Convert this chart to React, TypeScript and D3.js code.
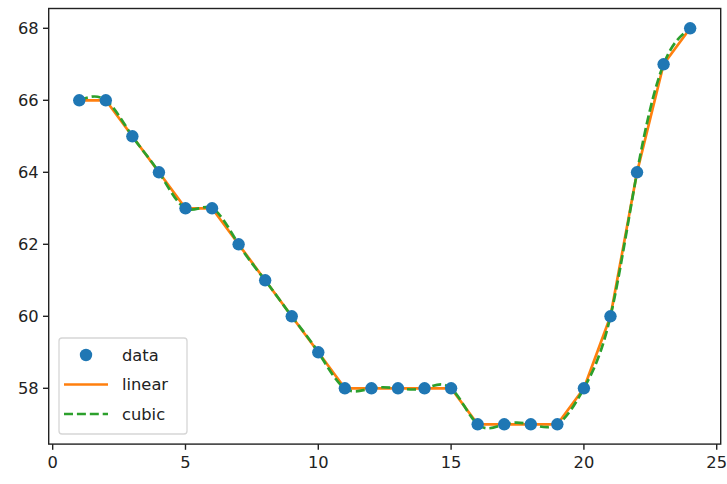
import React from 'react'
import * as d3 from 'd3'

// observations
const xValues = [1, 2, 3, 4, 5, 6, 7, 8, 9, 10, 11, 12, 13, 14, 15, 16, 17, 18, 19, 20, 21, 22, 23, 24]
const yValues = [66, 66, 65, 64, 63, 63, 62, 61, 60, 59, 58, 58, 58, 58, 58, 57, 57, 57, 57, 58, 60, 64, 67, 68]

const xTicks = [0, 5, 10, 15, 20, 25]
const yTicks = [58, 60, 62, 64, 66, 68]

const legendItems = ['data', 'linear', 'cubic']

const W = 727
const H = 484
const FONT = 'DejaVu Sans, sans-serif'
const FS = 16.3
const TEXT = '#222'
const LW = 2.7
const R = 6.2

export default function App() {
  const xScale = d3.scaleLinear().domain([-0.15, 25.15]).range([48.7, 720.7])
  const yScale = d3.scaleLinear().domain([56.45, 68.55]).range([444.1, 8.5])

  const pts: [number, number][] = xValues.map((v, i) => [v, yValues[i]])

  const line = d3
    .line<[number, number]>()
    .x((d) => xScale(d[0]))
    .y((d) => yScale(d[1]))

  const linearPath = line.curve(d3.curveLinear)(pts)
  const cubicPath = line.curve(d3.curveNatural)(pts)

  const [x0, x1] = xScale.range()
  const [y0, y1] = yScale.range()

  // legend layout
  const lgX = 59
  const lgY = 338
  const lgW = 128
  const lgH = 96
  const rowY = (i: number) => lgY + 17 + i * 29.5

  return (
    <div style={{ position: 'absolute', left: 0, top: 0 }}>
      <svg width={W} height={H} style={{ display: 'block', background: '#fff' }}>
        <rect x={0} y={0} width={W} height={H} fill="#fff" />

        {/* lines */}
        <path d={linearPath || ''} fill="none" stroke="#ff7f0e" strokeWidth={LW} strokeLinejoin="round" />
        <path d={cubicPath || ''} fill="none" stroke="#2ca02c" strokeWidth={LW} strokeDasharray="9,3.9" />

        {/* data points */}
        {pts.map((d, i) => (
          <circle key={i} cx={xScale(d[0])} cy={yScale(d[1])} r={R} fill="#1f77b4" />
        ))}

        {/* spines */}
        <rect x={x0} y={y1} width={x1 - x0} height={y0 - y1} fill="none" stroke="#222" strokeWidth={1.4} />

        {/* x ticks */}
        {xTicks.map((t) => (
          <g key={'x' + t}>
            <line x1={xScale(t)} x2={xScale(t)} y1={y0} y2={y0 + 5.7} stroke="#222" strokeWidth={1.4} />
            <text
              x={xScale(t)}
              y={y0 + 8 + FS * 0.95}
              textAnchor="middle"
              fontFamily={FONT}
              fontSize={FS}
              fill={TEXT}
            >
              {t}
            </text>
          </g>
        ))}

        {/* y ticks */}
        {yTicks.map((t) => (
          <g key={'y' + t}>
            <line x1={x0 - 5.7} x2={x0} y1={yScale(t)} y2={yScale(t)} stroke="#222" strokeWidth={1.4} />
            <text
              x={x0 - 10}
              y={yScale(t)}
              dy="0.36em"
              textAnchor="end"
              fontFamily={FONT}
              fontSize={FS}
              fill={TEXT}
            >
              {t}
            </text>
          </g>
        ))}

        {/* legend */}
        <rect
          x={lgX}
          y={lgY}
          width={lgW}
          height={lgH}
          rx={3}
          fill="#fff"
          fillOpacity={0.8}
          stroke="#d6d6d6"
          strokeWidth={1.3}
        />
        <circle cx={86} cy={rowY(0)} r={R} fill="#1f77b4" />
        <line x1={64} x2={108} y1={rowY(1)} y2={rowY(1)} stroke="#ff7f0e" strokeWidth={LW} />
        <line x1={64} x2={108} y1={rowY(2)} y2={rowY(2)} stroke="#2ca02c" strokeWidth={LW} strokeDasharray="9,3.9" />
        {legendItems.map((s, i) => (
          <text key={s} x={122} y={rowY(i)} dy="0.36em" fontFamily={FONT} fontSize={FS} fill={TEXT}>
            {s}
          </text>
        ))}
      </svg>
    </div>
  )
}
